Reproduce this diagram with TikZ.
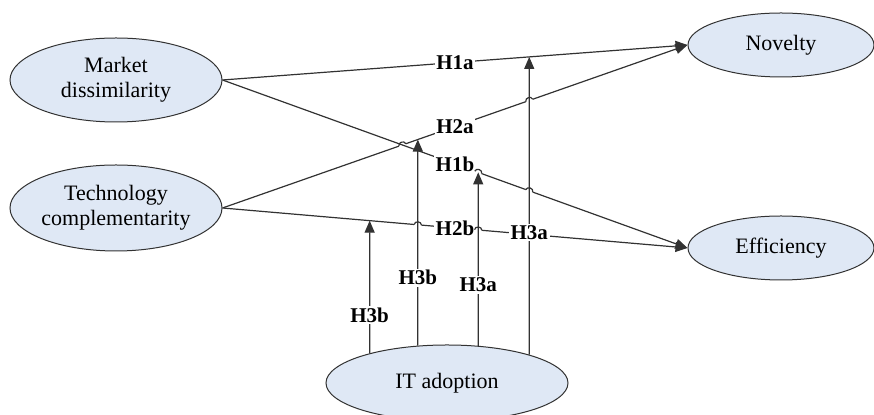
\documentclass[tikz,border=0pt]{standalone}
\usepackage{fontspec}
\setmainfont{Liberation Serif}
\usetikzlibrary{arrows.meta,positioning,calc,shapes.geometric}
\definecolor{ink}{RGB}{50,50,50}
\definecolor{pale}{RGB}{223,232,245}
\tikzset{
  var/.style={ellipse,draw=ink,line width=0.5pt,fill=pale,inner sep=0pt,
    font=\fontsize{11}{12.5}\selectfont,align=center},
  link/.style={draw=ink,line width=0.6pt},
  arr/.style={link,-{Triangle[length=6pt,width=5pt]}},
  hyp/.style={fill=white,inner sep=0.8pt,font=\fontsize{10.5}{12}\selectfont\bfseries},
}
% small jump of a line (#2 -- #3) where another line crosses it at #1
\newcommand\hopat[3]{%
  \draw[white,line width=1.6pt] ($(#1)!1.8pt!(#2)$) -- ($(#1)!1.8pt!(#3)$);
  \draw[link] ($(#1)!1.8pt!(#2)$) to[bend left=90,looseness=1.4] ($(#1)!1.8pt!(#3)$);
}
\begin{document}
\begin{tikzpicture}[x=0.5pt,y=-0.5pt]
  \useasboundingbox (0,0) rectangle (874,415);
  \node[var,minimum width=106pt,minimum height=42pt] (md) at (116,80) {Market\\dissimilarity};
  \node[var,minimum width=106pt,minimum height=43pt] (tc) at (116,208) {Technology\\complementarity};
  \node[var,minimum width=93pt,minimum height=32pt] (nov) at (781,45) {Novelty};
  \node[var,minimum width=93pt,minimum height=32pt] (eff) at (781,248) {Efficiency};
  \node[var,minimum width=121pt,minimum height=38pt] (it) at (447,383) {IT adoption};
  % feet of the moderating arrows and points straight above them
  \coordinate (b1) at (it.159.6); \coordinate (u1) at (b1 |- nov.north);
  \coordinate (b2) at (it.128.2); \coordinate (u2) at (b2 |- nov.north);
  \coordinate (b3) at (it.50.8);  \coordinate (u3) at (b3 |- nov.north);
  \coordinate (b4) at (it.19.6);  \coordinate (u4) at (b4 |- nov.north);
  \coordinate (t1) at (intersection of b1--u1 and tc.east--eff.west);
  \coordinate (t2) at (intersection of b2--u2 and tc.east--nov.west);
  \coordinate (t3) at (intersection of b3--u3 and md.east--eff.west);
  \coordinate (t4) at (intersection of b4--u4 and md.east--nov.west);
  % main paths
  \draw[arr] (md.east) -- node[hyp]{H1a} (nov.west);
  \draw[arr] (tc.east) -- node[hyp]{H2a} (nov.west);
  \hopat{intersection of tc.east--nov.west and md.east--eff.west}{tc.east}{nov.west}
  \hopat{intersection of tc.east--nov.west and b4--u4}{tc.east}{nov.west}
  \draw[arr] (md.east) -- node[hyp]{H1b} (eff.west);
  \hopat{t3}{md.east}{eff.west}
  \hopat{intersection of md.east--eff.west and b4--u4}{md.east}{eff.west}
  \draw[arr] (tc.east) -- node[hyp]{H2b} (eff.west);
  \hopat{intersection of tc.east--eff.west and b2--u2}{tc.east}{eff.west}
  \hopat{intersection of tc.east--eff.west and b3--u3}{tc.east}{eff.west}
  % moderation by IT adoption
  \draw[arr] (b1) -- node[hyp,pos=.29]{H3b} (t1);
  \draw[arr] (b2) -- node[hyp,pos=.33]{H3b} (t2);
  \draw[arr] (b3) -- node[hyp,pos=.35]{H3a} (t3);
  \draw[arr] (b4) -- node[hyp,pos=.41]{H3a} (t4);
\end{tikzpicture}
\end{document}
